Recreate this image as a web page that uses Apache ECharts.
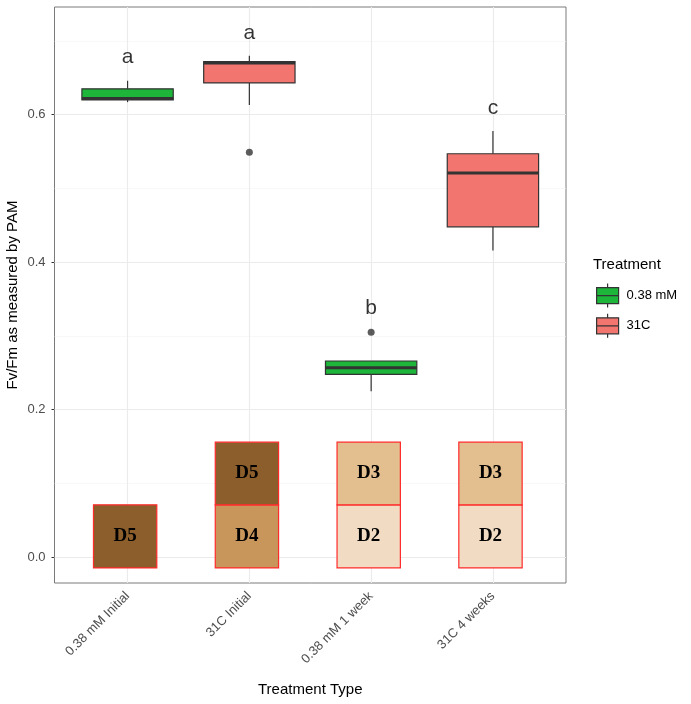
<!DOCTYPE html>
<html>
<head>
<meta charset="utf-8">
<script src="https://cdn.jsdelivr.net/npm/echarts@6/dist/echarts.min.js"></script>
<style>
  html, body { margin: 0; padding: 0; background: #fff; }
  #chart { width: 691px; height: 704px; }
</style>
</head>
<body>
<div id="chart"></div>
<script>
// treatment groups on the x axis
const categories = ['0.38 mM Initial', '31C Initial', '0.38 mM 1 week', '31C 4 weeks']
const treatments = ['0.38 mM', '31C']
const treatmentColors = ['#1DB53A', '#F2766F']

// box stats per category: [min, q1, median, q3, max]
const boxStats = [
  [0.617, 0.620, 0.622, 0.635, 0.646],
  [0.613, 0.643, 0.670, 0.672, 0.680],
  [0.225, 0.248, 0.257, 0.266, 0.266],
  [0.416, 0.448, 0.521, 0.547, 0.578]
]
const boxTreatment = [0, 1, 0, 1]

// outliers: [category position, value]
const outliers = [[2, 0.549], [3, 0.305]]

// significance letters
const letters = ['a', 'a', 'b', 'c']
const letterY = [0.678, 0.711, 0.338, 0.609]

// symbiont clade blocks
const cladeCategory = [1, 2, 2, 3, 3, 4, 4]
const cladeLabels = ['D5', 'D4', 'D5', 'D2', 'D3', 'D2', 'D3']
const cladeBottom = [-0.0145, -0.0145, 0.071, -0.0145, 0.071, -0.0145, 0.071]
const cladeTop = [0.071, 0.071, 0.156, 0.071, 0.156, 0.071, 0.156]
const cladeColors = { D5: '#8C5E2B', D4: '#C8965A', D3: '#E3BF8F', D2: '#F1DCC3' }

const yTicks = [0, 0.2, 0.4, 0.6]
const yMinor = [0.1, 0.3, 0.5, 0.7]
const xTicks = [1, 2, 3, 4]

const chart = echarts.init(document.getElementById('chart'))

function boxSeries(t) {
  const data = []
  boxStats.forEach((s, i) => {
    if (boxTreatment[i] === t) data.push([i + 1, ...s])
  })
  return {
    name: treatments[t],
    type: 'custom',
    color: treatmentColors[t],
    z: 5,
    encode: { x: 0, y: [1, 2, 3, 4, 5] },
    data,
    renderItem(params, api) {
      const x = api.value(0)
      const w = api.size([0.75, 0])[0]
      const pMin = api.coord([x, api.value(1)])
      const pQ1 = api.coord([x, api.value(2)])
      const pMed = api.coord([x, api.value(3)])
      const pQ3 = api.coord([x, api.value(4)])
      const pMax = api.coord([x, api.value(5)])
      const line = { stroke: '#333333', lineWidth: 1.2 }
      return {
        type: 'group',
        children: [
          { type: 'line', shape: { x1: pMax[0], y1: pMax[1], x2: pQ3[0], y2: pQ3[1] }, style: line },
          { type: 'line', shape: { x1: pQ1[0], y1: pQ1[1], x2: pMin[0], y2: pMin[1] }, style: line },
          {
            type: 'rect',
            shape: { x: pQ3[0] - w / 2, y: pQ3[1], width: w, height: pQ1[1] - pQ3[1] },
            style: { fill: treatmentColors[t], stroke: '#333333', lineWidth: 1.2 }
          },
          {
            type: 'line',
            shape: { x1: pMed[0] - w / 2, y1: pMed[1], x2: pMed[0] + w / 2, y2: pMed[1] },
            style: { stroke: '#333333', lineWidth: 3 }
          }
        ]
      }
    }
  }
}

const cladeData = cladeCategory.map((c, i) => [c, cladeBottom[i], cladeTop[i], cladeLabels[i]])

const gridLines = [
  ...yMinor.map(v => ({ yAxis: v, lineStyle: { color: '#F3F3F3', width: 0.6, type: 'solid' } })),
  ...yTicks.map(v => ({ yAxis: v, lineStyle: { color: '#EBEBEB', width: 1.1, type: 'solid' } })),
  ...xTicks.map(v => ({ xAxis: v, lineStyle: { color: '#EBEBEB', width: 1.1, type: 'solid' } }))
]

const option = {
  backgroundColor: '#ffffff',
  animation: false,
  textStyle: { fontFamily: 'Liberation Sans, Arial, sans-serif' },
  title: {
    text: 'Treatment',
    left: 588,
    top: 252,
    textStyle: { fontSize: 15, fontWeight: 'normal', color: '#000' }
  },
  legend: {
    data: treatments,
    orient: 'vertical',
    left: 591,
    top: 278,
    itemWidth: 22,
    itemHeight: 24,
    itemGap: 5,
    icon: 'path://M11,0L11,4M0,4L22,4L22,20L0,20ZM0,12L22,12M11,20L11,24',
    itemStyle: { borderColor: '#333333', borderWidth: 1.2 },
    textStyle: { fontSize: 13, color: '#000', padding: [0, 0, 0, 3] }
  },
  grid: {
    left: 54.5,
    top: 7,
    right: 125,
    bottom: 121,
    outerBoundsMode: 'none',
    containLabel: false,
    show: true,
    borderColor: '#7A7A7A',
    borderWidth: 1,
    backgroundColor: '#fff'
  },
  xAxis: {
    type: 'value',
    min: 0.4,
    max: 4.6,
    name: 'Treatment Type',
    nameLocation: 'middle',
    nameGap: 99,
    nameMoveOverlap: false,
    nameTextStyle: { fontSize: 15, color: '#000' },
    axisLine: { show: false },
    splitLine: { show: false },
    axisTick: { show: true, length: 3, customValues: xTicks, lineStyle: { color: '#333333' } },
    axisLabel: {
      customValues: xTicks,
      rotate: 45,
      margin: 11,
      fontSize: 13,
      color: '#4D4D4D',
      formatter: v => categories[Math.round(v) - 1]
    }
  },
  yAxis: {
    type: 'value',
    min: -0.035,
    max: 0.746,
    name: 'Fv/Fm as measured by PAM',
    nameLocation: 'middle',
    nameGap: 34,
    nameMoveOverlap: false,
    nameRotate: 90,
    nameTextStyle: { fontSize: 15, color: '#000' },
    axisLine: { show: false },
    splitLine: { show: false },
    axisTick: { show: true, length: 3, customValues: yTicks, lineStyle: { color: '#333333' } },
    axisLabel: {
      customValues: yTicks,
      margin: 9,
      fontSize: 13,
      color: '#4D4D4D',
      formatter: v => v.toFixed(1)
    }
  },
  series: [
    {
      type: 'line',
      data: [],
      silent: true,
      z: 1,
      markLine: { silent: true, z: 1, symbol: 'none', label: { show: false }, data: gridLines }
    },
    {
      type: 'custom',
      z: 3,
      encode: { x: 0, y: [1, 2] },
      data: cladeData,
      renderItem(params, api) {
        const x = api.value(0) - 0.02
        const w = api.size([0.52, 0])[0]
        const top = api.coord([x, api.value(2)])
        const bottom = api.coord([x, api.value(1)])
        const label = cladeLabels[params.dataIndex]
        return {
          type: 'group',
          children: [
            {
              type: 'rect',
              shape: { x: top[0] - w / 2, y: top[1], width: w, height: bottom[1] - top[1] },
              style: { fill: cladeColors[label], stroke: '#FF2A2A', lineWidth: 1.2 }
            },
            {
              type: 'text',
              x: top[0],
              y: (top[1] + bottom[1]) / 2,
              style: {
                text: label,
                fill: '#000',
                font: 'bold 19px "Liberation Serif", "Times New Roman", serif',
                align: 'center',
                verticalAlign: 'middle'
              }
            }
          ]
        }
      }
    },
    boxSeries(0),
    boxSeries(1),
    {
      type: 'scatter',
      z: 6,
      symbolSize: 7,
      itemStyle: { color: '#333333' },
      data: outliers
    },
    {
      type: 'scatter',
      z: 6,
      symbolSize: 0,
      data: letters.map((l, i) => [i + 1, letterY[i]]),
      label: {
        show: true,
        position: 'inside',
        fontSize: 21,
        color: '#000',
        formatter: p => letters[p.dataIndex]
      }
    }
  ]
}

chart.setOption(option)
</script>
</body>
</html>
